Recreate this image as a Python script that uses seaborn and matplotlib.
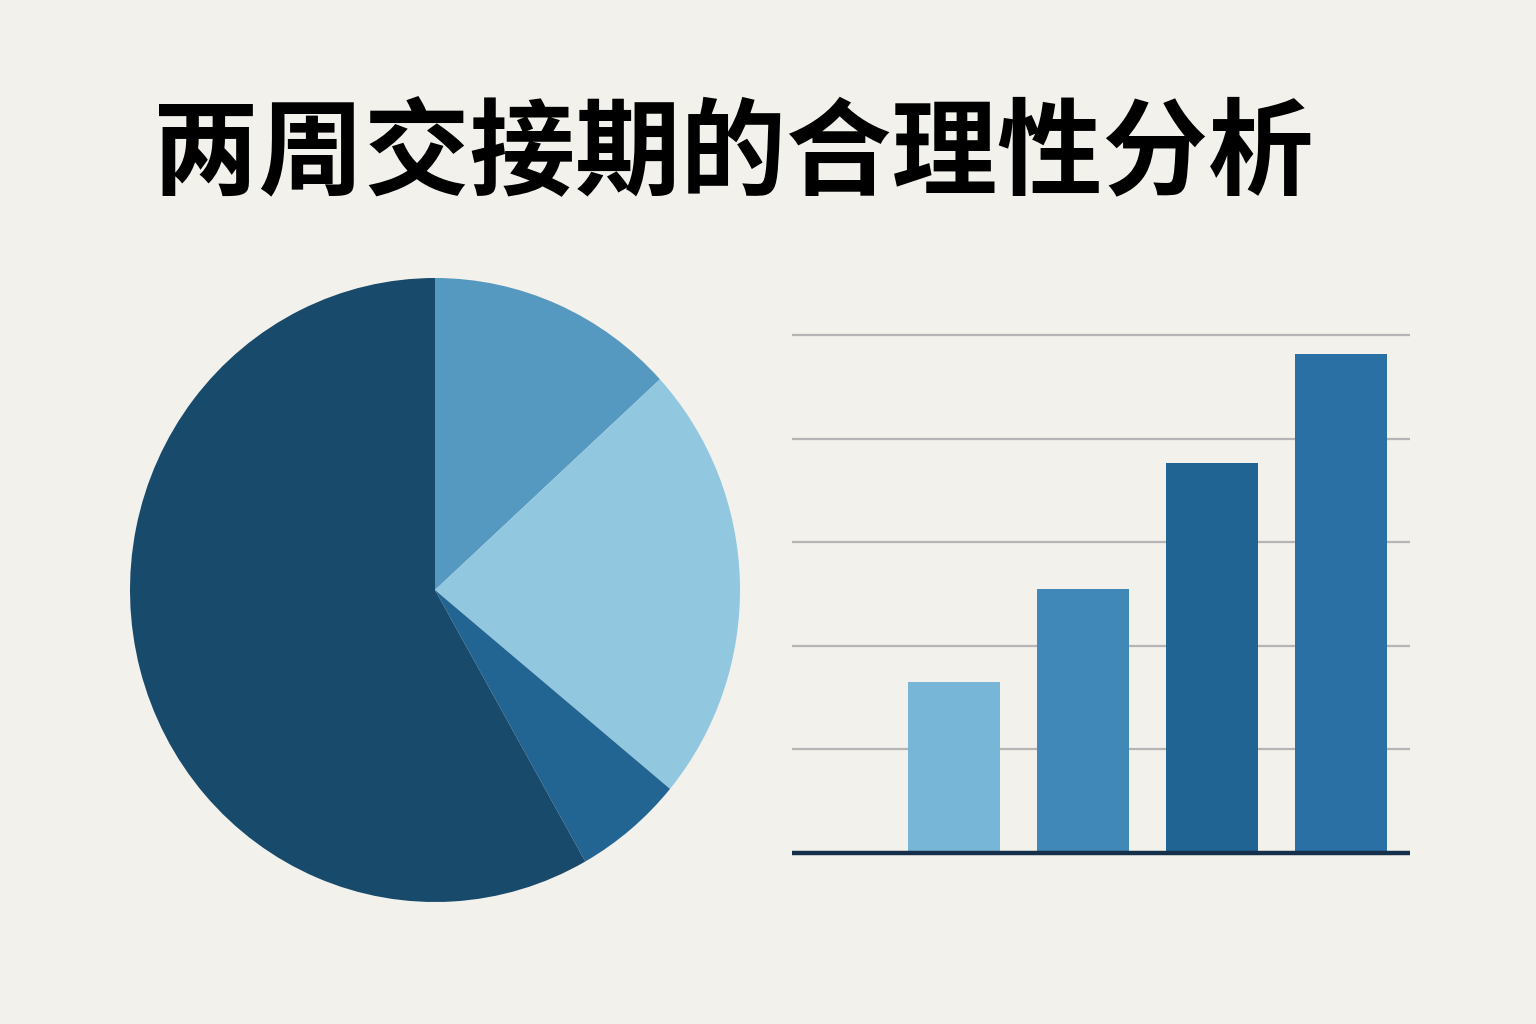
import numpy as np
import pandas as pd
import matplotlib
matplotlib.use("Agg")
import matplotlib.pyplot as plt
import seaborn as sns

title = "两周交接期的合理性分析"

# pie slices, clockwise from the top
pie_shares = [13.2, 22.8, 5.8, 58.2]
pie_colors = ["#5598c0", "#92c7e0", "#236592", "#184a6c"]

# bars
bar_labels = ["A", "B", "C", "D"]
bar_values = [1.65, 2.55, 3.76, 4.82]
bar_colors = ["#78b6d8", "#3f88b8", "#1f6492", "#2a70a5"]
grid_levels = [1, 2, 3, 4, 5]

bg = "#f2f1ec"

sns.set_theme(style="white")
plt.rcParams["font.family"] = ["Noto Sans CJK SC", "DejaVu Sans"]

W, H = 1536, 1024
fig = plt.figure(figsize=(W / 100, H / 100), dpi=100)
fig.patch.set_facecolor(bg)

fig.text(733 / W, 1 - 155 / H, title, ha="center", va="center",
         fontsize=76, fontweight="bold", color="#000000")

# pie (very slightly taller than wide, like the reference)
cx, cy, rx, ry = 435, 590, 305, 312
ax_pie = fig.add_axes([(cx - rx) / W, (H - cy - ry) / H, 2 * rx / W, 2 * ry / H])
ax_pie.pie(pie_shares, colors=pie_colors, startangle=90, counterclock=False,
           wedgeprops=dict(linewidth=0))
ax_pie.set_aspect("auto")
ax_pie.set_xlim(-1, 1)
ax_pie.set_ylim(-1, 1)
ax_pie.axis("off")

# bars
left, right, base, top = 792, 1410, 853, 300
ax_bar = fig.add_axes([left / W, (H - base) / H, (right - left) / W, (base - top) / H])
ax_bar.set_facecolor(bg)
df = pd.DataFrame({"cat": bar_labels, "val": bar_values})
sns.barplot(data=df, x="cat", y="val", hue="cat", palette=bar_colors,
            legend=False, width=0.72, saturation=1, ax=ax_bar, zorder=3,
            linewidth=0)
unit = 103.6
ax_bar.set_ylim(0, (base - top) / unit)
ax_bar.set_xlim(-1.256, 3.535)
for g in grid_levels:
    ax_bar.axhline(g, color="#b5b5b5", linewidth=1.6, zorder=1,
                   solid_capstyle="butt")
ax_bar.axhline(0, color="#162f4a", linewidth=3.2, zorder=4, clip_on=False,
               solid_capstyle="butt")
ax_bar.set_xticks([])
ax_bar.set_yticks([])
ax_bar.set_xlabel("")
ax_bar.set_ylabel("")
sns.despine(ax=ax_bar, left=True, bottom=True)

fig.savefig("out.png", dpi=100, facecolor=bg)
